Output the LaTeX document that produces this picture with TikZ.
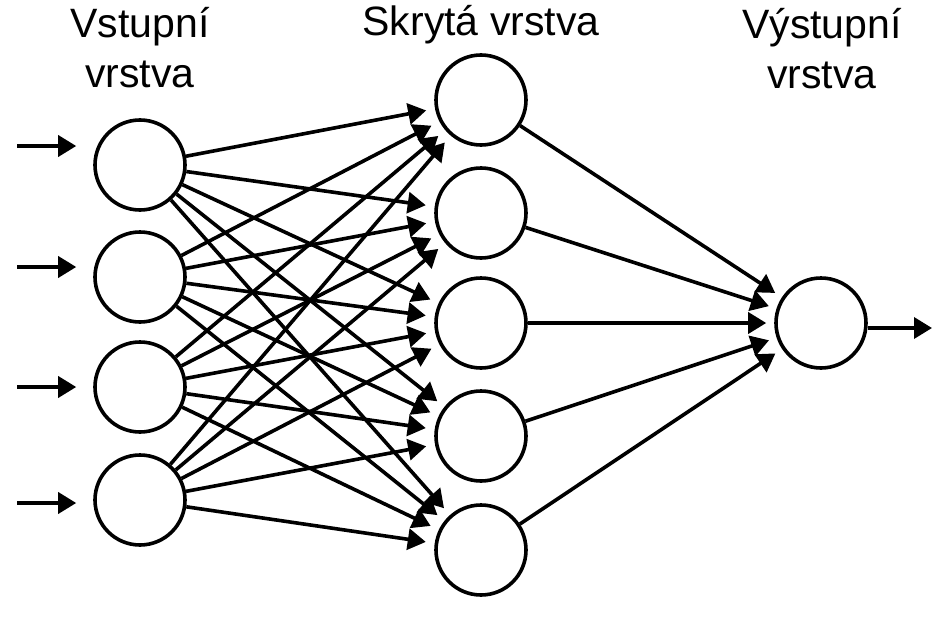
\documentclass[tikz,border=0pt]{standalone}
\usepackage{fontspec}
\setmainfont{Liberation Sans}
\usetikzlibrary{arrows.meta}

\tikzset{
  neuron/.style={circle,draw,line width=3.6pt,minimum size=90pt,inner sep=0pt},
  edge/.style={line width=3.6pt,-{Triangle[length=18pt,width=21pt]}},
  layername/.style={font=\fontsize{41}{50}\selectfont,anchor=base,inner sep=0pt},
}

\begin{document}
\begin{tikzpicture}[x=1pt,y=-1pt]
  \useasboundingbox (0,0) rectangle (951,621);

  % layer names
  \node[layername] (tin1) at (140,37) {Vstupní};
  \node[layername] (tin2) at (140,87) {vrstva};
  \node[layername] (thid) at (481,35) {Skrytá vrstva};
  \node[layername] (tout1) at (822,38) {Výstupní};
  \node[layername] (tout2) at (822,88) {vrstva};

  % neurons
  \foreach \y [count=\i] in {165,277,387,500}
    \node[neuron] (i\i) at (140,\y) {};
  \foreach \y [count=\j] in {100,213,323,436,550}
    \node[neuron] (h\j) at (481,\y) {};
  \node[neuron] (o) at (821,323) {};

  % inputs
  \foreach \y [count=\i] in {146,267,387,503} {
    \coordinate (a\i) at (17,\y);
    \draw[edge,shorten >=17pt] (a\i) -- (a\i -| i\i.west);
  }

  % connections
  \foreach \i in {1,...,4}
    \foreach \j in {1,...,5}
      \draw[edge,shorten >=9pt] (i\i) -- (h\j);
  \foreach \j in {1,...,5}
    \draw[edge,shorten >=8pt] (h\j) -- (o);

  % output
  \coordinate (out) at (932,328);
  \draw[edge] (o.east |- out) -- (out);
\end{tikzpicture}
\end{document}
